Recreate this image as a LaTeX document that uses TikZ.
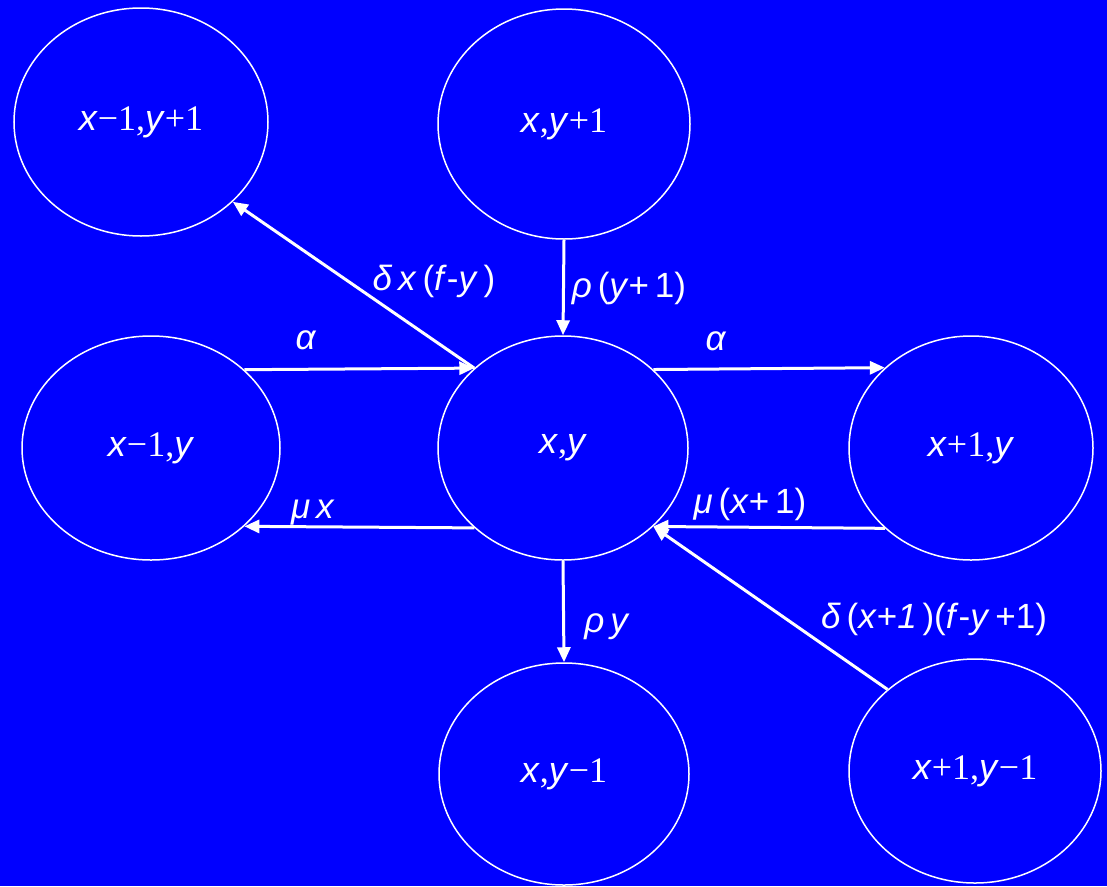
\documentclass[tikz,border=0pt]{standalone}
\usepackage{fontspec}
\setmainfont{Liberation Sans}
\newfontfamily\serfont{Liberation Serif}
\usetikzlibrary{arrows.meta,shapes.geometric}
\definecolor{bg}{RGB}{0,0,255}
\newcommand\vi[1]{\textit{#1}}
\newcommand\sd[1]{{\serfont #1}}
\begin{document}
\begin{tikzpicture}[x=1pt,y=-1pt,
  state/.style={draw=white, line width=1.5pt, ellipse, inner sep=0pt, text=white,
    font=\fontsize{36}{42}\selectfont},
  trans/.style={draw=white, line width=3pt, -{Triangle[length=15pt,width=13pt]}},
  lab/.style={text=white, font=\fontsize{35}{40}\selectfont, inner sep=0pt, anchor=base}]
\fill[bg] (0,0) rectangle (1107,886);
\useasboundingbox (0,0) rectangle (1107,886);

\node[state, minimum width=254pt, minimum height=228pt] (ul) at (141,122)
  {\vi{x}\sd{−1,}\vi{y}\sd{+1}};
\node[state, minimum width=252pt, minimum height=230pt] (ur) at (564,124)
  {\vi{x}\sd{,}\vi{y}\sd{+1}};
\node[state, minimum width=258pt, minimum height=224pt] (xm) at (151,448)
  {\vi{x}\sd{−1,}\vi{y}};
\node[state, minimum width=250pt, minimum height=224pt] (xy) at (563,448)
  {\vi{x}\sd{,}\vi{y}};
\node[state, minimum width=244pt, minimum height=224pt] (xp) at (971,448)
  {\vi{x}\sd{+1,}\vi{y}};
\node[state, minimum width=250pt, minimum height=222pt] (dn) at (564,774)
  {\vi{x}\sd{,}\vi{y}\sd{−1}};
\node[state, minimum width=252pt, minimum height=224pt] (dr) at (975,771)
  {\vi{x}\sd{+1,}\vi{y}\sd{−1}};

% transitions
\draw[trans] (xy.138.3) -- (ul.-41.4);
\draw[trans] (xm.40.8) -- (xy.138.3);
\draw[trans] (ur.south) -- (xy.north);
\draw[trans] (xy.41.7) -- (xp.137.6);
\draw[trans] (xp.-137.6) -- (xy.-41.7);
\draw[trans] (xy.-138.3) -- (xm.-40.8);
\draw[trans] (xy.south) -- (dn.north);
\draw[trans] (dr.137.3) -- (xy.-41.7);

% labels
\node[lab] (l1) at (434,290) {\vi{δ}\,\vi{x}\,(\vi{f}-\vi{y}\,)};
\node[lab] (l2) at (629,297) {\vi{ρ}\,(\vi{y}+\,1)};
\node[lab] (l3) at (306,349) {\vi{α}};
\node[lab] (l4) at (716,350) {\vi{α}};
\node[lab] (l5) at (313,518) {\vi{μ}\,\vi{x}};
\node[lab] (l6) at (750,513) {\vi{μ}\,(\vi{x}+\,1)};
\node[lab] (l7) at (607,632) {\vi{ρ}\,\vi{y}};
\node[lab] (l8) at (934,628) {\vi{δ}\,(\vi{x}+\vi{1}\,)(\vi{f}-\vi{y}\,+1)};
\end{tikzpicture}
\end{document}
